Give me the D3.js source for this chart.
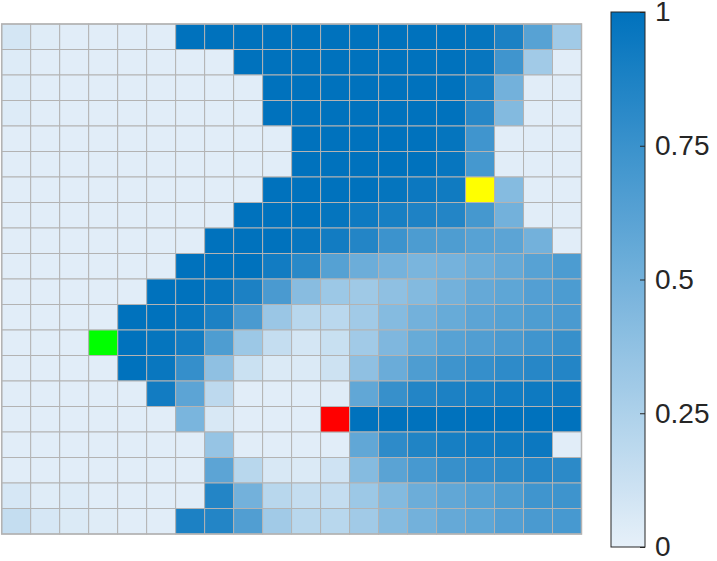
<!DOCTYPE html>
<html>
<head>
<meta charset="utf-8">
<script src="https://cdn.jsdelivr.net/npm/d3@7"></script>
<style>
  body { margin: 0; background: #fff; }
  text { font-family: "Liberation Sans", Arial, sans-serif; }
</style>
</head>
<body>
<div id="chart"></div>
<script>
const width = 717;
const height = 561;

// grid values, row 0 = top row
const row00 = [0.08,0.03,0.02,0.02,0.02,0.02,1,1,1,1,1,1,1,1,1,1,0.98,0.88,0.62,0.3];
const row01 = [0.04,0.02,0.02,0.02,0.02,0.02,0.02,0.02,1,1,1,1,1,1,1,1,0.97,0.72,0.3,0.02];
const row02 = [0.04,0.02,0.02,0.02,0.02,0.02,0.02,0.02,0.02,1,1,1,1,1,1,1,0.9,0.5,0.02,0.02];
const row03 = [0.04,0.02,0.02,0.02,0.02,0.02,0.02,0.02,0.02,1,1,1,1,1,1,1,0.83,0.43,0.02,0.02];
const row04 = [0.02,0.02,0.02,0.02,0.02,0.02,0.02,0.02,0.02,0.02,1,1,1,1,1,0.98,0.72,0.02,0.02,0.02];
const row05 = [0.02,0.02,0.02,0.02,0.02,0.02,0.02,0.02,0.02,0.02,1,1,1,1,1,0.97,0.7,0.02,0.02,0.02];
const row06 = [0.02,0.02,0.02,0.02,0.02,0.02,0.02,0.02,0.02,1,1,1,1,0.98,0.95,0.93,null,0.42,0.02,0.02];
const row07 = [0.02,0.02,0.02,0.02,0.02,0.02,0.02,0.02,1,1,1,0.98,0.94,0.9,0.87,0.85,0.7,0.5,0.02,0.02];
const row08 = [0.02,0.02,0.02,0.02,0.02,0.02,0.02,1,1,1,0.97,0.92,0.85,0.74,0.67,0.66,0.62,0.6,0.5,0.02];
const row09 = [0.02,0.02,0.02,0.02,0.02,0.02,1,1,1,0.92,0.82,0.63,0.53,0.49,0.47,0.49,0.53,0.56,0.62,0.67];
const row10 = [0.02,0.02,0.02,0.02,0.02,1,1,0.97,0.88,0.68,0.41,0.32,0.31,0.38,0.43,0.5,0.56,0.59,0.64,0.67];
const row11 = [0.02,0.02,0.02,0.02,1,1,0.97,0.88,0.68,0.33,0.2,0.19,0.3,0.42,0.5,0.55,0.6,0.63,0.66,0.68];
const row12 = [0.02,0.02,0.02,null,1,0.98,0.92,0.66,0.32,0.15,0.08,0.13,0.3,0.45,0.55,0.62,0.65,0.68,0.72,0.76];
const row13 = [0.02,0.02,0.02,0.02,1,0.96,0.77,0.38,0.12,0.05,0.05,0.11,0.38,0.54,0.66,0.73,0.77,0.8,0.83,0.85];
const row14 = [0.02,0.02,0.02,0.02,0.02,0.92,0.6,0.18,0.02,0.02,0.02,0.03,0.58,0.76,0.85,0.88,0.9,0.92,0.94,0.95];
const row15 = [0.02,0.02,0.02,0.02,0.02,0.02,0.47,0.06,0.02,0.02,0.02,null,1,1,1,1,1,1,1,1];
const row16 = [0.02,0.02,0.02,0.02,0.02,0.02,0.02,0.35,0.02,0.02,0.02,0.02,0.58,0.8,0.86,0.9,0.92,0.93,0.95,0.02];
const row17 = [0.02,0.02,0.02,0.02,0.02,0.02,0.02,0.6,0.2,0.06,0.05,0.1,0.42,0.61,0.69,0.76,0.79,0.81,0.84,0.81];
const row18 = [0.07,0.03,0.04,0.02,0.02,0.02,0.02,0.85,0.5,0.2,0.15,0.15,0.32,0.43,0.53,0.58,0.62,0.66,0.72,0.73];
const row19 = [0.15,0.07,0.05,0.03,0.02,0.02,0.88,0.85,0.65,0.3,0.2,0.2,0.3,0.42,0.5,0.56,0.59,0.64,0.68,0.69];

const rows = [row00,row01,row02,row03,row04,row05,row06,row07,row08,row09,
              row10,row11,row12,row13,row14,row15,row16,row17,row18,row19];

// highlighted cells
const markRows = [12, 15, 6];
const markCols = [3, 11, 16];
const markNames = ["start", "goal", "waypoint"];

const colorbarTicks = [0, 0.25, 0.5, 0.75, 1];

function createChart() {
    const nRows = rows.length;
    const nCols = rows[0].length;

    const svg = d3.select("#chart")
        .append("svg")
        .attr("width", width)
        .attr("height", height);

    const x = d3.scaleBand()
        .domain(d3.range(nCols))
        .range([1.7, 581.5]);
    const y = d3.scaleBand()
        .domain(d3.range(nRows))
        .range([24, 534]);

    const color = d3.scaleSequential()
        .domain([0, 1])
        .interpolator(d3.interpolateRgb("#e6f0f9", "#0072bd"));

    const markColor = d3.scaleOrdinal()
        .domain(markNames)
        .range(["#00ff00", "#ff0000", "#ffff00"]);

    var cells = [];
    rows.forEach((r, i) => {
        r.forEach((v, j) => {
            cells.push({row: i, col: j, value: v});
        });
    });
    markNames.forEach((m, k) => {
        cells.push({row: markRows[k], col: markCols[k], mark: m});
    });

    svg.append("g")
        .selectAll("rect")
        .data(cells.filter(d => d.value !== null))
        .enter()
        .append("rect")
        .attr("x", d => x(d.col))
        .attr("y", d => y(d.row))
        .attr("width", x.bandwidth())
        .attr("height", y.bandwidth())
        .attr("fill", d => d.mark ? markColor(d.mark) : color(d.value))
        .attr("stroke", "#b3b3b3")
        .attr("stroke-width", 1);

    // outer border
    svg.append("rect")
        .attr("x", x.range()[0])
        .attr("y", y.range()[0])
        .attr("width", x.range()[1] - x.range()[0])
        .attr("height", y.range()[1] - y.range()[0])
        .attr("fill", "none")
        .attr("stroke", "#b3b3b3")
        .attr("stroke-width", 1.5);

    // colorbar
    const cbX = 611, cbW = 34;
    const cbY = d3.scaleLinear().domain([0, 1]).range([547, 12]);

    const grad = svg.append("defs")
        .append("linearGradient")
        .attr("id", "cbgrad")
        .attr("x1", 0).attr("y1", 1)
        .attr("x2", 0).attr("y2", 0);
    grad.selectAll("stop")
        .data(d3.range(0, 1.0001, 0.05))
        .enter()
        .append("stop")
        .attr("offset", d => d)
        .attr("stop-color", d => color(d));

    svg.append("rect")
        .attr("x", cbX)
        .attr("y", cbY(1))
        .attr("width", cbW)
        .attr("height", cbY(0) - cbY(1))
        .attr("fill", "url(#cbgrad)")
        .attr("stroke", "#262626")
        .attr("stroke-width", 1);

    const axis = d3.axisRight(cbY)
        .tickValues(colorbarTicks)
        .tickSize(-5)
        .tickPadding(10)
        .tickFormat(d => d3.format("")(d));

    const ax = svg.append("g")
        .attr("transform", "translate(" + (cbX + cbW) + ",0)")
        .call(axis);
    ax.select(".domain").remove();
    ax.selectAll("line").attr("stroke", "#262626");
    ax.selectAll("text")
        .attr("fill", "#262626")
        .style("font-size", "28px");
}

createChart();
</script>
</body>
</html>
